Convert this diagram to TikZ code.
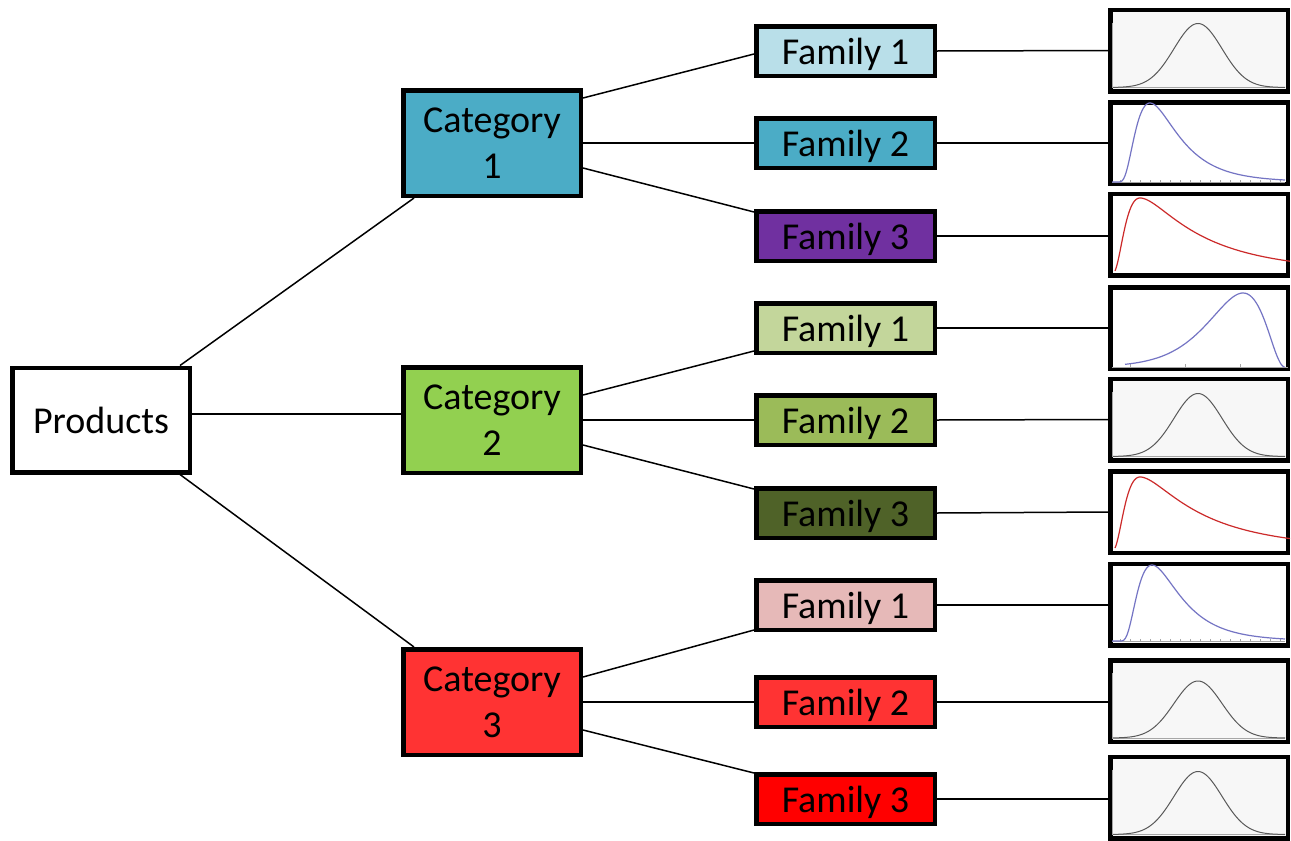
\documentclass[tikz,border=0pt]{standalone}
\usepackage{fontspec}
\setmainfont{Carlito}
\definecolor{cA}{HTML}{4BACC6}
\definecolor{cAa}{HTML}{B9DFE9}
\definecolor{cAc}{HTML}{7030A0}
\definecolor{cB}{HTML}{92D050}
\definecolor{cBa}{HTML}{C3D69B}
\definecolor{cBb}{HTML}{9BBB59}
\definecolor{cBc}{HTML}{4F6228}
\definecolor{cC}{HTML}{FF3333}
\definecolor{cCa}{HTML}{E6B9B8}
\definecolor{cCc}{HTML}{FF0000}
\definecolor{chartbg}{HTML}{F7F7F7}
\definecolor{bluec}{HTML}{7474C4}
\definecolor{redc}{HTML}{CC2A2A}
\tikzset{
  boxbase/.style={draw=black, line width=4.5pt, rectangle, inner sep=0pt, font=\fontsize{38}{46}\selectfont, align=center},
  catbox/.style={boxbase, minimum width=177.5pt, minimum height=105.5pt},
  prodbox/.style={boxbase, fill=white, minimum width=177.5pt, minimum height=104.5pt},
  fambox/.style={boxbase, minimum width=178.5pt, minimum height=49.5pt, text depth=0pt},
  chartbox/.style={draw=black, line width=4.5pt, rectangle, minimum width=177.5pt, minimum height=81.5pt},
  link/.style={draw=black, line width=1.5pt},
  axisl/.style={draw=black!35, line width=1pt},
  normc/.style={draw=black!65, line width=1pt},
  bluel/.style={draw=bluec, line width=1.2pt},
  redl/.style={draw=redc, line width=1.2pt}
}
\newcommand{\normplot}[2]{% #1 = center y, #2 = height
  \draw[axisl] (1112,#1-28) -- (1112,#1+37) -- (1285,#1+37);
  \draw[normc] plot[domain=1113:1285,samples=90,smooth] (\x,{#1+37-#2*exp(-((\x-1198)/24)^2/2)});
}
\begin{document}
\begin{tikzpicture}[x=1pt,y=-1pt]
\useasboundingbox (0,0) rectangle (1291,841);
% main nodes
\node[prodbox] (p) at (101,420) {Products};
\node[catbox, fill=cA] (c1) at (492,143) {Category\\1};
\node[catbox, fill=cB] (c2) at (492,420) {Category\\2};
\node[catbox, fill=cC] (c3) at (492,702) {Category\\3};
\node[fambox, fill=cAa] (f11) at (845.5,51) {Family 1};
\node[fambox, fill=cA]  (f12) at (845.5,143) {Family 2};
\node[fambox, fill=cAc] (f13) at (845.5,236) {Family 3};
\node[fambox, fill=cBa] (f21) at (845.5,328) {Family 1};
\node[fambox, fill=cBb] (f22) at (845.5,420) {Family 2};
\node[fambox, fill=cBc] (f23) at (845.5,513) {Family 3};
\node[fambox, fill=cCa] (f31) at (845.5,605) {Family 1};
\node[fambox, fill=cC]  (f32) at (845.5,702) {Family 2};
\node[fambox, fill=cCc] (f33) at (845.5,799) {Family 3};
% charts
\node[chartbox, fill=chartbg] (g11) at (1199,50.5) {};
\node[chartbox, fill=white]   (g12) at (1199,143) {};
\node[chartbox, fill=white]   (g13) at (1199,234.5) {};
\node[chartbox, fill=white]   (g21) at (1199,328) {};
\node[chartbox, fill=chartbg] (g22) at (1199,419.5) {};
\node[chartbox, fill=white]   (g23) at (1199,512) {};
\node[chartbox, fill=white]   (g31) at (1199,604.5) {};
\node[chartbox, fill=chartbg] (g32) at (1199,701) {};
\node[chartbox, fill=chartbg] (g33) at (1199,797.5) {};
% normal curves
\normplot{50.5}{64}
\normplot{419.5}{63}
\normplot{701}{57}
\normplot{797.5}{63}
% blue right-skewed (cat 1 family 2)
\draw[axisl] (1112,182) -- (1285,182);
\foreach \t in {1120,1130,...,1280} \draw[axisl, line width=0.6pt] (\t,182) -- (\t,180);
\draw[bluel] (1112,182) -- (1116.5,182) -- plot[domain=1116.5:1285,samples=120,smooth] (\x,{182-79*exp(-(ln((\x-1116)/34))^2/0.7)});
% blue right-skewed (cat 3 family 1)
\draw[axisl] (1112,641) -- (1285,641);
\foreach \t in {1120,1130,...,1280} \draw[axisl, line width=0.6pt] (\t,641) -- (\t,639);
\draw[bluel] (1112,641) -- (1118.5,641) -- plot[domain=1118.5:1285,samples=120,smooth] (\x,{641-76*exp(-(ln((\x-1118)/34))^2/0.7)});
% blue left-skewed (cat 2 family 1)
\draw[axisl] (1112,367) -- (1288,367);
\foreach \t in {1130,1185,1240} \draw[axisl, line width=0.6pt] (\t,367) -- (\t,364);
\draw[bluel] plot[domain=1125:1284.5,samples=120,smooth] (\x,{367-74*pow((1285-\x)/42,2.25)*exp(2.25*(1-(1285-\x)/42))});
% red curves
\draw[redl] plot[domain=1115:1140,samples=40,smooth] (\x,{274-76*exp(-(ln((\x-1110)/30))^2/1.0)})
  -- plot[domain=1140:1290,samples=100,smooth] (\x,{274-76*exp(-(ln((\x-1110)/30))^2/1.8)});
\draw[redl] plot[domain=1115:1140,samples=40,smooth] (\x,{551-74*exp(-(ln((\x-1110)/30))^2/1.0)})
  -- plot[domain=1140:1290,samples=100,smooth] (\x,{551-74*exp(-(ln((\x-1110)/30))^2/1.8)});
% connectors
\draw[link] ([xshift=-12pt]p.north east) -- ([xshift=13pt]c1.south west);
\draw[link] ([yshift=6pt]p.east) -- ([yshift=6pt]c2.west);
\draw[link] ([xshift=-12pt]p.south east) -- ([xshift=13pt]c3.north west);
\draw[link] ([yshift=-10pt]c1.north east) -- ([yshift=-3pt]f11.west);
\draw[link] (c1.east) -- (f12.west);
\draw[link] ([yshift=30pt]c1.south east) -- ([yshift=-3pt]f13.north west);
\draw[link] ([yshift=-30pt]c2.north east) -- ([yshift=4pt]f21.south west);
\draw[link] (c2.east) -- (f22.west);
\draw[link] ([yshift=30pt]c2.south east) -- ([yshift=-3pt]f23.north west);
\draw[link] ([yshift=-30pt]c3.north east) -- ([yshift=2pt]f31.south west);
\draw[link] (c3.east) -- (f32.west);
\draw[link] ([yshift=27pt]c3.south east) -- ([yshift=-1pt]f33.north west);
\draw[link] (f11.east) -- (g11.west);
\draw[link] (f12.east) -- (g12.west);
\draw[link] (f13.east) -- ([yshift=-1.5pt]g13.west);
\draw[link] (f21.east) -- (g21.west);
\draw[link] (f22.east) -- (g22.west);
\draw[link] (f23.east) -- (g23.west);
\draw[link] (f31.east) -- ([yshift=-0.5pt]g31.west);
\draw[link] (f32.east) -- ([yshift=-1pt]g32.west);
\draw[link] (f33.east) -- ([yshift=-1.5pt]g33.west);
\end{tikzpicture}
\end{document}
